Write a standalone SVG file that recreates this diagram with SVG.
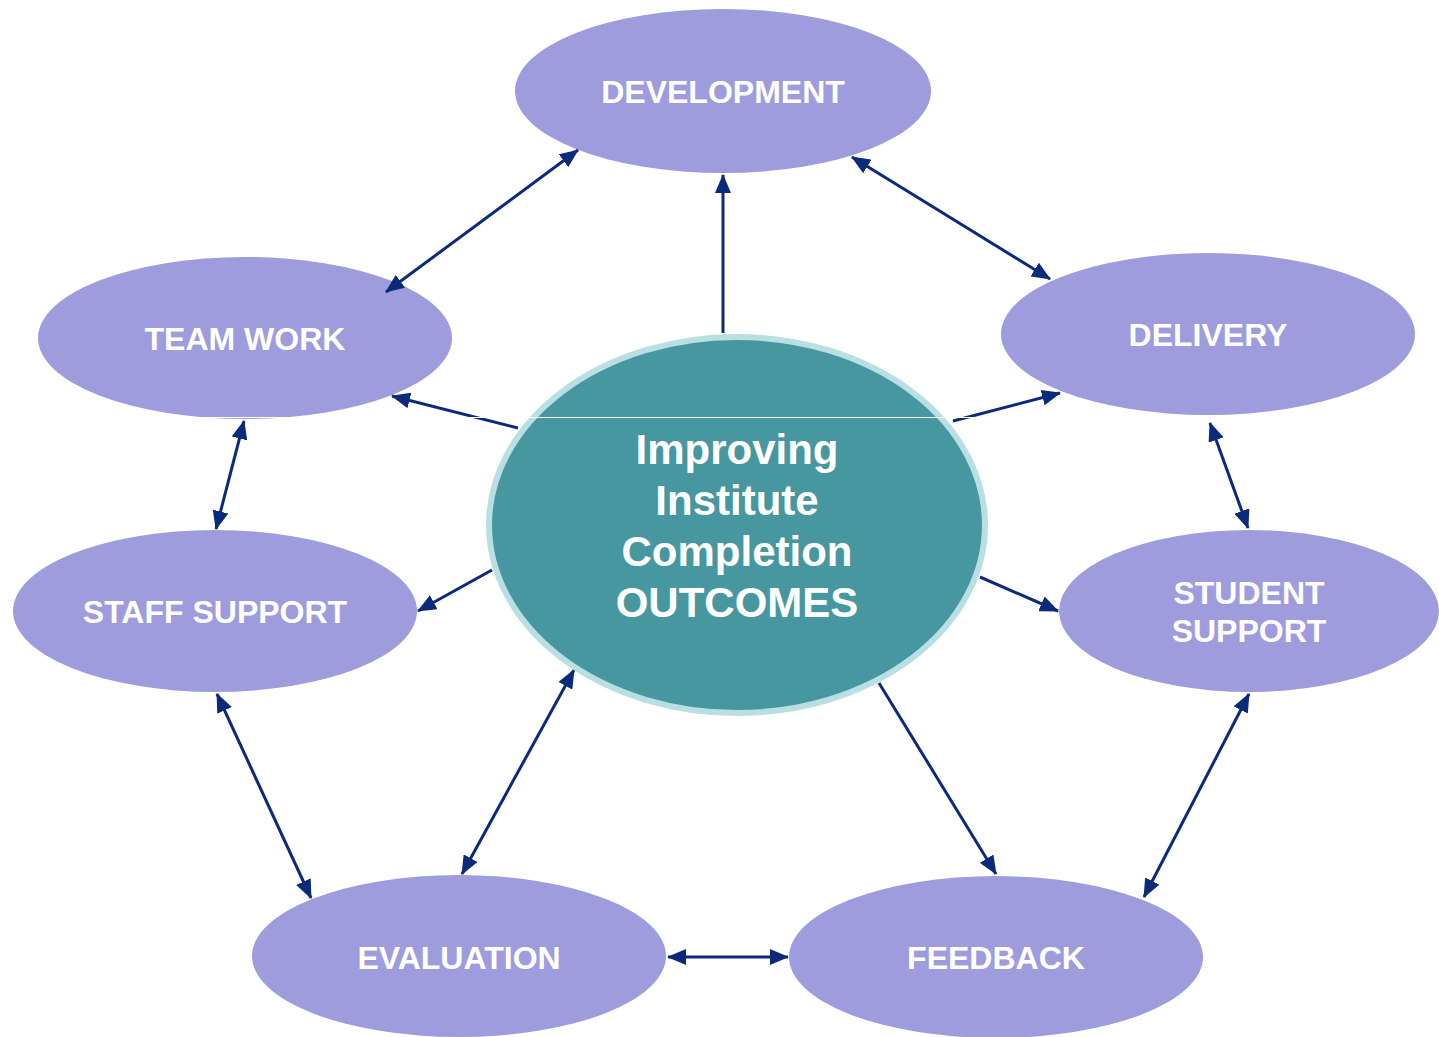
<svg xmlns="http://www.w3.org/2000/svg" width="1439" height="1037" viewBox="0 0 1439 1037">
<defs>
<style>
.node{fill:#9e9cdc;}
.lbl{font-family:"Liberation Sans",Arial,sans-serif;font-weight:bold;font-size:32px;fill:#ffffff;text-anchor:middle;}
.ctr{font-family:"Liberation Sans",Arial,sans-serif;font-weight:bold;font-size:42px;fill:#ffffff;text-anchor:middle;}
.con{stroke:#0b2a7c;stroke-width:3;fill:none;}
.both{marker-start:url(#ah);marker-end:url(#ah);}
.one{marker-end:url(#ah);}
</style>
<marker id="ah" markerUnits="userSpaceOnUse" markerWidth="19" markerHeight="16" refX="18" refY="8" orient="auto-start-reverse" viewBox="0 0 19 16">
<path d="M0,0 L19,8 L0,16 z" fill="#0b2a7c"/>
</marker>
</defs>
<rect width="1439" height="1037" fill="#ffffff"/>
<g id="n-development"><ellipse class="node" cx="723" cy="91" rx="208" ry="82"/><text class="lbl" x="723" y="103">DEVELOPMENT</text></g>
<g id="n-teamwork"><ellipse class="node" cx="245" cy="338" rx="207" ry="81"/><text class="lbl" x="245" y="350">TEAM WORK</text></g>
<g id="n-delivery"><ellipse class="node" cx="1208" cy="334" rx="207" ry="81"/><text class="lbl" x="1208" y="346">DELIVERY</text></g>
<g id="n-staffsupport"><ellipse class="node" cx="215" cy="611" rx="202" ry="81"/><text class="lbl" x="215" y="623">STAFF SUPPORT</text></g>
<g id="n-studentsupport"><ellipse class="node" cx="1249" cy="611" rx="190" ry="81"/><text class="lbl" x="1249" y="604">STUDENT</text><text class="lbl" x="1249" y="642">SUPPORT</text></g>
<g id="n-evaluation"><ellipse class="node" cx="459" cy="956" rx="207" ry="81"/><text class="lbl" x="459" y="969">EVALUATION</text></g>
<g id="n-feedback"><ellipse class="node" cx="996" cy="957" rx="207" ry="81"/><text class="lbl" x="996" y="969">FEEDBACK</text></g>
<g id="connectors">
<line class="con both" x1="386" y1="292" x2="578" y2="150"/>
<line class="con one" x1="723" y1="333" x2="723" y2="175"/>
<line class="con both" x1="852" y1="157" x2="1050" y2="279"/>
<line class="con one" x1="518" y1="428" x2="392" y2="396"/>
<line class="con one" x1="953" y1="421" x2="1060" y2="393"/>
<line class="con both" x1="244" y1="421" x2="216" y2="529"/>
<line class="con both" x1="1210" y1="423" x2="1248" y2="528"/>
<line class="con one" x1="492" y1="570" x2="418" y2="611"/>
<line class="con one" x1="980" y1="577" x2="1058" y2="611"/>
<line class="con both" x1="217" y1="694" x2="311" y2="898"/>
<line class="con both" x1="462" y1="874" x2="574" y2="670"/>
<line class="con one" x1="879" y1="683" x2="996" y2="874"/>
<line class="con both" x1="1249" y1="694" x2="1144" y2="897"/>
<line class="con both" x1="668" y1="957" x2="788" y2="957"/>
</g>
<g id="n-center"><ellipse cx="737" cy="525" rx="248" ry="188" fill="#4797a0" stroke="#b9dfe3" stroke-width="6"/>
<text class="ctr" x="737" y="464">Improving</text>
<text class="ctr" x="737" y="515">Institute</text>
<text class="ctr" x="737" y="566">Completion</text>
<text class="ctr" x="737" y="617">OUTCOMES</text></g>
<line x1="0" y1="417.5" x2="1439" y2="417.5" stroke="#ffffff" stroke-width="1.2"/>
</svg>
